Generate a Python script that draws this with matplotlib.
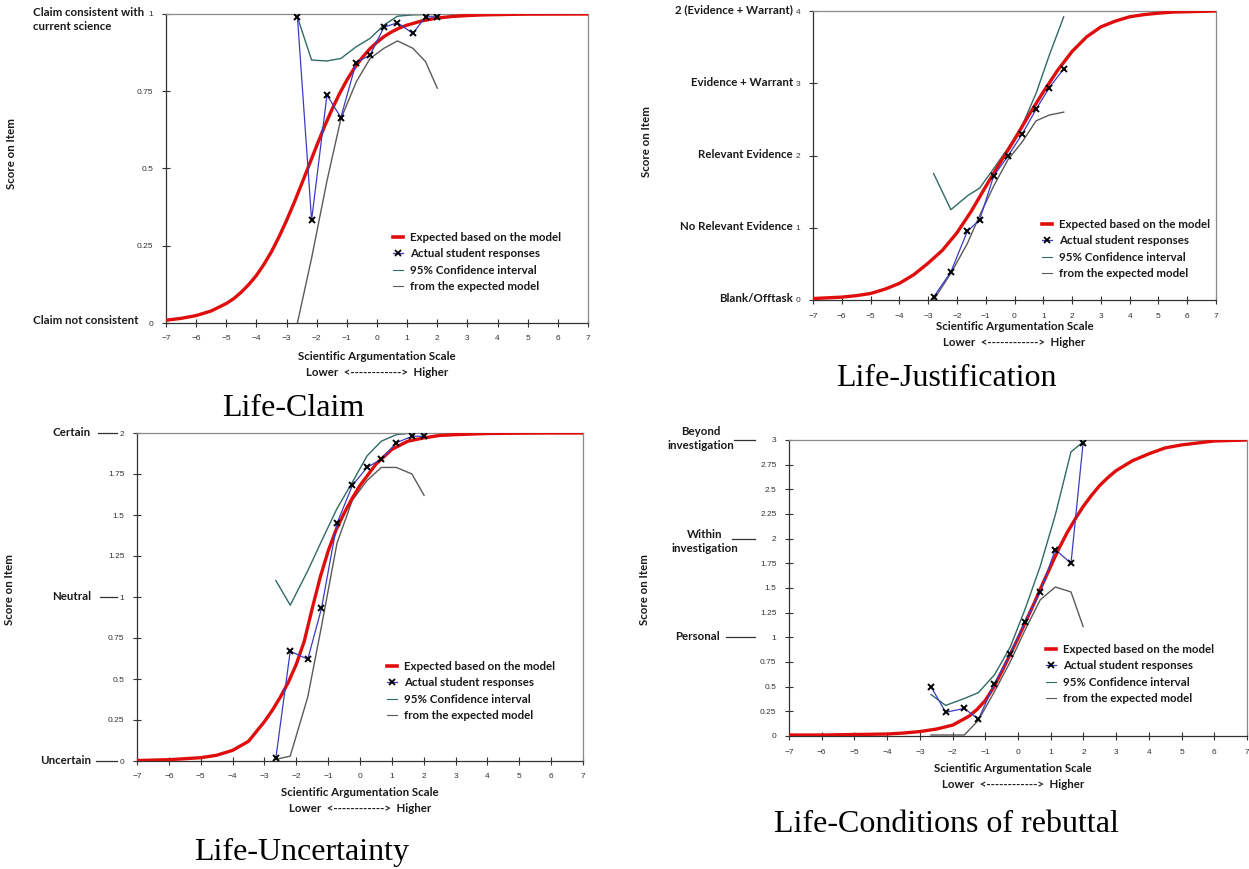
import matplotlib
matplotlib.use("Agg")
import matplotlib.pyplot as plt
from matplotlib.lines import Line2D
from matplotlib.transforms import blended_transform_factory

W, H = 1249, 869

# ---------------- data ----------------
# Life-Claim
claim_grid = [-7.0, -6.5, -6.0, -5.5, -5.0, -4.75, -4.5, -4.25, -4.0, -3.75, -3.5, -3.25, -3.0,
              -2.75, -2.5, -2.25, -2.0, -1.75, -1.5, -1.25, -1.0, -0.75, -0.5, -0.25, 0.0,
              0.25, 0.5, 0.75, 1.0, 1.5, 2.0, 2.5, 3.0, 3.5, 4.0, 4.5, 5.0, 6.0, 7.0]
claim_expected = [0.009, 0.015, 0.024, 0.039, 0.063, 0.079, 0.100, 0.125, 0.154, 0.190, 0.231,
                  0.279, 0.332, 0.389, 0.450, 0.512, 0.574, 0.634, 0.690, 0.741, 0.786, 0.825,
                  0.858, 0.886, 0.909, 0.928, 0.943, 0.955, 0.964, 0.978, 0.987, 0.992, 0.995,
                  0.997, 0.998, 0.999, 0.9995, 0.9998, 1.0]
claim_x = [-2.64, -2.17, -1.66, -1.20, -0.69, -0.23, 0.23, 0.68, 1.19, 1.61, 2.00]
claim_actual = [0.991, 0.333, 0.738, 0.665, 0.843, 0.867, 0.957, 0.972, 0.937, 0.991, 0.991]
claim_upper = [0.99, 0.851, 0.848, 0.856, 0.894, 0.921, 0.964, 0.993, 0.997, 0.998, 0.998]
claim_lower = [0.0, 0.21, 0.46, 0.66, 0.78, 0.856, 0.889, 0.913, 0.889, 0.846, 0.76]
claim_levels = [0, 1]

# Life-Justification
just_grid = [-7.0, -6.5, -6.0, -5.5, -5.0, -4.5, -4.0, -3.5, -3.0, -2.5, -2.0, -1.5, -1.0, -0.5,
             0.0, 0.5, 1.0, 1.5, 2.0, 2.5, 3.0, 3.5, 4.0, 4.5, 5.0, 5.5, 6.0, 6.5, 7.0]
just_expected = [0.02, 0.03, 0.04, 0.06, 0.09, 0.15, 0.23, 0.35, 0.51, 0.69, 0.93, 1.23, 1.57,
                 1.90, 2.22, 2.56, 2.88, 3.18, 3.44, 3.64, 3.78, 3.86, 3.92, 3.95, 3.97, 3.985,
                 3.99, 3.995, 4.0]
just_x = [-2.81, -2.21, -1.64, -1.21, -0.72, -0.23, 0.27, 0.75, 1.21, 1.71]
just_actual = [0.04, 0.39, 0.95, 1.11, 1.72, 1.99, 2.30, 2.64, 2.94, 3.20]
just_upper = [1.75, 1.25, 1.44, 1.55, 1.82, 2.10, 2.42, 2.86, 3.39, 3.92]
just_lower = [0.0, 0.37, 0.78, 1.17, 1.58, 1.94, 2.19, 2.48, 2.56, 2.60]
just_labels = ["Blank/Offtask", "No Relevant Evidence", "Relevant Evidence",
               "Evidence + Warrant", "2 (Evidence + Warrant)"]

# Life-Uncertainty
unc_grid = [-7, -6, -5, -4.5, -4, -3.5, -3, -2.75, -2.5, -2.25, -2, -1.75, -1.5, -1.25, -1,
            -0.75, -0.5, -0.25, 0, 0.5, 1, 1.5, 2, 2.5, 3, 4, 5, 6, 7]
unc_expected = [0.003, 0.008, 0.02, 0.035, 0.065, 0.12, 0.24, 0.31, 0.39, 0.48, 0.59, 0.73,
                0.93, 1.12, 1.28, 1.41, 1.51, 1.60, 1.68, 1.81, 1.90, 1.95, 1.97, 1.985, 1.99,
                1.997, 1.999, 2.0, 2.0]
unc_x = [-2.64, -2.19, -1.64, -1.21, -0.72, -0.24, 0.22, 0.67, 1.14, 1.63, 2.01]
unc_actual = [0.02, 0.67, 0.62, 0.93, 1.45, 1.68, 1.79, 1.84, 1.94, 1.98, 1.98]
unc_upper = [1.10, 0.95, 1.16, 1.34, 1.54, 1.70, 1.86, 1.95, 1.99, 2.0, 2.0]
unc_lower = [0.01, 0.03, 0.39, 0.82, 1.33, 1.59, 1.71, 1.79, 1.79, 1.75, 1.62]

# Life-Conditions of rebuttal
reb_grid = [-7, -6, -5, -4, -3.5, -3, -2.5, -2, -1.5, -1.25, -1, -0.75, -0.5, -0.25, 0, 0.25,
            0.5, 0.75, 1, 1.25, 1.5, 1.75, 2, 2.25, 2.5, 2.75, 3, 3.5, 4, 4.5, 5, 6, 7]
reb_expected = [0.01, 0.01, 0.015, 0.02, 0.03, 0.045, 0.07, 0.11, 0.2, 0.27, 0.36, 0.49, 0.65,
                0.82, 0.99, 1.17, 1.35, 1.54, 1.72, 1.90, 2.06, 2.20, 2.33, 2.44, 2.54, 2.62,
                2.69, 2.79, 2.86, 2.92, 2.95, 2.99, 3.0]
reb_x = [-2.66, -2.21, -1.64, -1.21, -0.72, -0.24, 0.21, 0.68, 1.14, 1.62, 1.99]
reb_actual = [0.50, 0.24, 0.28, 0.17, 0.53, 0.83, 1.16, 1.46, 1.89, 1.75, 2.97]
reb_upper = [0.42, 0.31, 0.38, 0.44, 0.62, 0.90, 1.28, 1.72, 2.24, 2.88, 2.98]
reb_lower = [0.01, 0.01, 0.01, 0.16, 0.45, 0.75, 1.07, 1.38, 1.51, 1.46, 1.11]

legend_labels = ["Expected based on the model", "Actual student responses",
                 "95% Confidence interval", "from the expected model"]

# ---------------- style ----------------
RED = "#e00d0d"
BLUE = "#3b3bc4"
TEAL = "#2f6a66"
GRAY = "#5a5a5a"
BOLD = dict(family="Lato", fontweight="bold", fontsize=8.3, color="#1a1a1a")
TITLE = dict(family="Liberation Serif", fontsize=23, color="black")

fig = plt.figure(figsize=(W / 100, H / 100), dpi=100)


def px_axes(x0, y0, x1, y1):
    # pixel box (top-left origin) -> figure axes
    return fig.add_axes([x0 / W, 1 - y1 / H, (x1 - x0) / W, (y1 - y0) / H])


def fig_text(x, y, s, **kw):
    fig.text(x / W, 1 - y / H, s, **kw)


def draw_panel(ax, ex_x, ex_y, px_, actual, upper, lower, ymax, yticks, yticklabels):
    ax.plot(px_, upper, color=TEAL, lw=1.0, zorder=2)
    ax.plot(px_, lower, color=GRAY, lw=1.0, zorder=2)
    ax.plot(ex_x, ex_y, color=RED, lw=2.4, zorder=3, solid_joinstyle="round")
    ax.plot(px_, actual, color=BLUE, lw=0.9, marker="x", ms=4.5, mec="black", mew=1.4,
            zorder=4)
    ax.set_xlim(-7, 7)
    ax.set_ylim(0, ymax)
    ax.set_xticks(range(-7, 8))
    ax.set_yticks(yticks)
    ax.set_yticklabels(yticklabels)
    ax.tick_params(direction="inout", length=6, width=0.8, color="#333333",
                   labelsize=6, labelcolor="#333333", pad=6)
    for lab in ax.get_xticklabels() + ax.get_yticklabels():
        lab.set_family("Liberation Sans")
    for side in ("left", "bottom"):
        ax.spines[side].set_color("#333333")
        ax.spines[side].set_linewidth(0.9)
    for side in ("top", "right"):
        ax.spines[side].set_color("#8a8a8a")
        ax.spines[side].set_linewidth(0.9)


def add_legend(ax, x, y):
    handles = [
        Line2D([], [], color=RED, lw=2.6),
        Line2D([], [], color=BLUE, lw=0.9, marker="x", ms=4, mec="black", mew=1.3),
        Line2D([], [], color=TEAL, lw=0.8),
        Line2D([], [], color=GRAY, lw=0.8),
    ]
    leg = ax.legend(handles, legend_labels, loc="upper left",
                    bbox_to_anchor=(x / W, 1 - y / H), bbox_transform=fig.transFigure,
                    frameon=False, borderpad=0, borderaxespad=0, handlelength=0.9,
                    handletextpad=0.6, labelspacing=0.46,
                    prop=dict(family="Lato", weight="bold", size=8.3))
    for t in leg.get_texts():
        t.set_color("#1a1a1a")


def level_label(ax, level, text, dx, dy=0, ha="right", va="center"):
    tr = blended_transform_factory(ax.transAxes, ax.transData)
    ax.annotate(text, xy=(0, level), xycoords=tr, xytext=(dx, dy),
                textcoords="offset pixels", ha=ha, va=va, linespacing=1.35,
                annotation_clip=False, **BOLD)


def level_dash(ax, level, x0, x1, width_px):
    tr = blended_transform_factory(ax.transAxes, ax.transData)
    ax.plot([x0 / width_px, x1 / width_px], [level, level], transform=tr,
            color="#333333", lw=0.9, clip_on=False)


def axis_texts(ax_box, y_lab, score_x, score_y):
    x0, x1 = ax_box
    cx = (x0 + x1) / 2
    fig_text(cx, y_lab, "Scientific Argumentation Scale", ha="center", va="center", **BOLD)
    fig_text(cx, y_lab + 16, "Lower  <------------>  Higher", ha="center", va="center", **BOLD)
    fig_text(score_x, score_y, "Score on Item", rotation=90, ha="center", va="center", **BOLD)


# ---------------- panel 1: Life-Claim ----------------
ax1 = px_axes(166, 14, 588, 323)
draw_panel(ax1, claim_grid, claim_expected, claim_x, claim_actual, claim_upper, claim_lower,
           1, [0, 0.25, 0.5, 0.75, 1], ["0", "0.25", "0.5", "0.75", "1"])
level_label(ax1, claim_levels[1], "Claim consistent with\ncurrent science", -133, 7,
            ha="left", va="top")
level_label(ax1, claim_levels[0], "Claim not consistent", -133, 2, ha="left")
add_legend(ax1, 393, 232)
axis_texts((166, 588), 357, 12, 154)
fig_text(293, 408, "Life-Claim", ha="center", va="center", **TITLE)

# ---------------- panel 2: Life-Justification ----------------
ax2 = px_axes(813, 11, 1216, 300)
draw_panel(ax2, just_grid, just_expected, just_x, just_actual, just_upper, just_lower,
           4, [0, 1, 2, 3, 4], ["0", "1", "2", "3", "4"])
for lvl, lab in enumerate(just_labels):
    level_label(ax2, lvl, lab, -20, 1)
add_legend(ax2, 1042, 219)
axis_texts((813, 1216), 326, 646, 142)
fig_text(946, 378, "Life-Justification", ha="center", va="center", **TITLE)

# ---------------- panel 3: Life-Uncertainty ----------------
ax3 = px_axes(137, 433, 583, 761)
q_ticks = [0, 0.25, 0.5, 0.75, 1, 1.25, 1.5, 1.75, 2]
draw_panel(ax3, unc_grid, unc_expected, unc_x, unc_actual, unc_upper, unc_lower,
           2, q_ticks, ["0", "0.25", "0.5", "0.75", "1", "1.25", "1.5", "1.75", "2"])
w3 = 583 - 137
for lvl, lab, d0 in [(2, "Certain", -39), (1, "Neutral", -37), (0, "Uncertain", -41)]:
    level_label(ax3, lvl, lab, -46, 1)
    level_dash(ax3, lvl, d0, -20, w3)
add_legend(ax3, 387, 661)
axis_texts((137, 583), 792, 10, 590)
fig_text(302, 852, "Life-Uncertainty", ha="center", va="center", **TITLE)

# ---------------- panel 4: Life-Conditions of rebuttal ----------------
ax4 = px_axes(789, 440, 1247, 736)
r_ticks = [0, 0.25, 0.5, 0.75, 1, 1.25, 1.5, 1.75, 2, 2.25, 2.5, 2.75, 3]
draw_panel(ax4, reb_grid, reb_expected, reb_x, reb_actual, reb_upper, reb_lower,
           3, r_ticks, ["0", "0.25", "0.5", "0.75", "1", "1.25", "1.5", "1.75", "2",
                        "2.25", "2.5", "2.75", "3"])
w4 = 1247 - 789
level_label(ax4, 3, "Beyond\ninvestigation", -88, 14, ha="center", va="top")
level_label(ax4, 2, "Within\ninvestigation", -84, 10, ha="center", va="top")
level_label(ax4, 1, "Personal", -92, 1, ha="center")
for lvl, d0 in [(3, -55), (2, -57), (1, -63)]:
    level_dash(ax4, lvl, d0, -34, w4)
add_legend(ax4, 1046, 644)
axis_texts((789, 1237), 768, 645, 590)
fig_text(946, 825, "Life-Conditions of rebuttal", ha="center", va="center", **TITLE)

fig.savefig("out.png", dpi=100, facecolor="white")
